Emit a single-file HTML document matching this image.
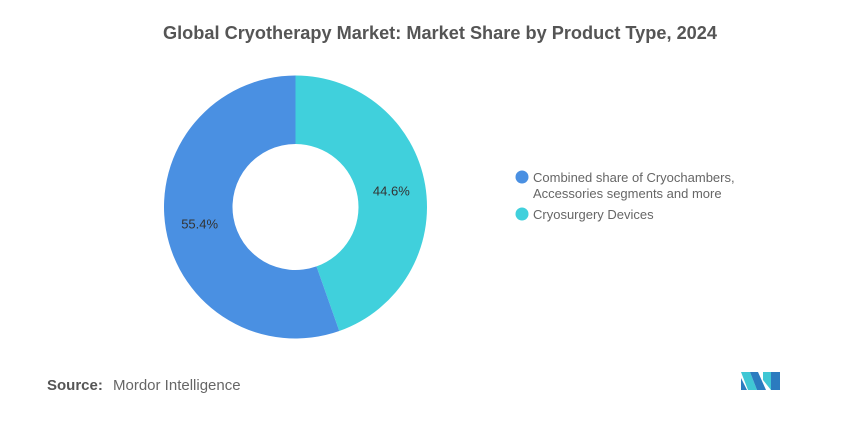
<!DOCTYPE html>
<html><head><meta charset="utf-8"><style>
body{margin:0;background:#fff;width:857px;height:421px;overflow:hidden;font-family:"Liberation Sans",sans-serif}
</style></head><body>
<svg width="857" height="421">
<text x="440" y="39" text-anchor="middle" font-size="18" font-weight="bold" fill="#555" textLength="554" lengthAdjust="spacingAndGlyphs">Global Cryotherapy Market: Market Share by Product Type, 2024</text>
<g id="donut"></g>
<g>
<circle cx="522" cy="177" r="6.5" fill="#4a90e2"/>
<text x="533" y="182" font-size="13" fill="#666">Combined share of Cryochambers,</text>
<text x="533" y="198" font-size="13" fill="#666">Accessories segments and more</text>
<circle cx="522" cy="214" r="6.5" fill="#40d0dc"/>
<text x="533" y="219" font-size="13" fill="#666">Cryosurgery Devices</text>
</g>
<text x="47" y="390" font-size="15" font-weight="bold" fill="#555">Source:</text>
<text x="113" y="390" font-size="15" fill="#666">Mordor Intelligence</text>
<g>
<polygon points="741,372 750,372 757,390 748,390" fill="#3fc7d4"/>
<polygon points="750,372 758,372 766,390 757,390" fill="#2b7bbf"/>
<polygon points="763,372 771,372 771,390 763,380" fill="#3fc7d4"/>
<polygon points="771,372 780,372 780,390 771,390" fill="#2b7bbf"/>
<polygon points="741,378 747,390 741,390" fill="#2b7bbf"/>
</g>
</svg>
<script>
const categories=["Cryosurgery Devices","Combined share of Cryochambers, Accessories segments and more"];
const values=[44.6,55.4];
const colors=["#40d0dc","#4a90e2"];
const cx=295.5,cy=207,R=131.5,r=63;
const g=document.getElementById('donut');
const total=values.reduce((a,b)=>a+b,0);
let a0=-Math.PI/2;
function pt(rad,a){return [cx+rad*Math.cos(a),cy+rad*Math.sin(a)];}
values.forEach((v,i)=>{
  const a1=a0+v/total*2*Math.PI;
  const large=(a1-a0)>Math.PI?1:0;
  const [x0,y0]=pt(R,a0),[x1,y1]=pt(R,a1),[x2,y2]=pt(r,a1),[x3,y3]=pt(r,a0);
  const p=document.createElementNS('http://www.w3.org/2000/svg','path');
  p.setAttribute('d',`M${x0},${y0}A${R},${R} 0 ${large} 1 ${x1},${y1}L${x2},${y2}A${r},${r} 0 ${large} 0 ${x3},${y3}Z`);
  p.setAttribute('fill',colors[i]);
  
  
  g.appendChild(p);
  const am=(a0+a1)/2;const [lx,ly]=pt((R+r)/2,am);
  const t=document.createElementNS('http://www.w3.org/2000/svg','text');
  t.setAttribute('x',lx);t.setAttribute('y',ly+5);
  t.setAttribute('text-anchor','middle');t.setAttribute('font-size','13');t.setAttribute('fill','#333');
  
  
  t.textContent=v.toFixed(1)+'%';
  g.appendChild(t);
  a0=a1;
});
</script>
</body></html>
